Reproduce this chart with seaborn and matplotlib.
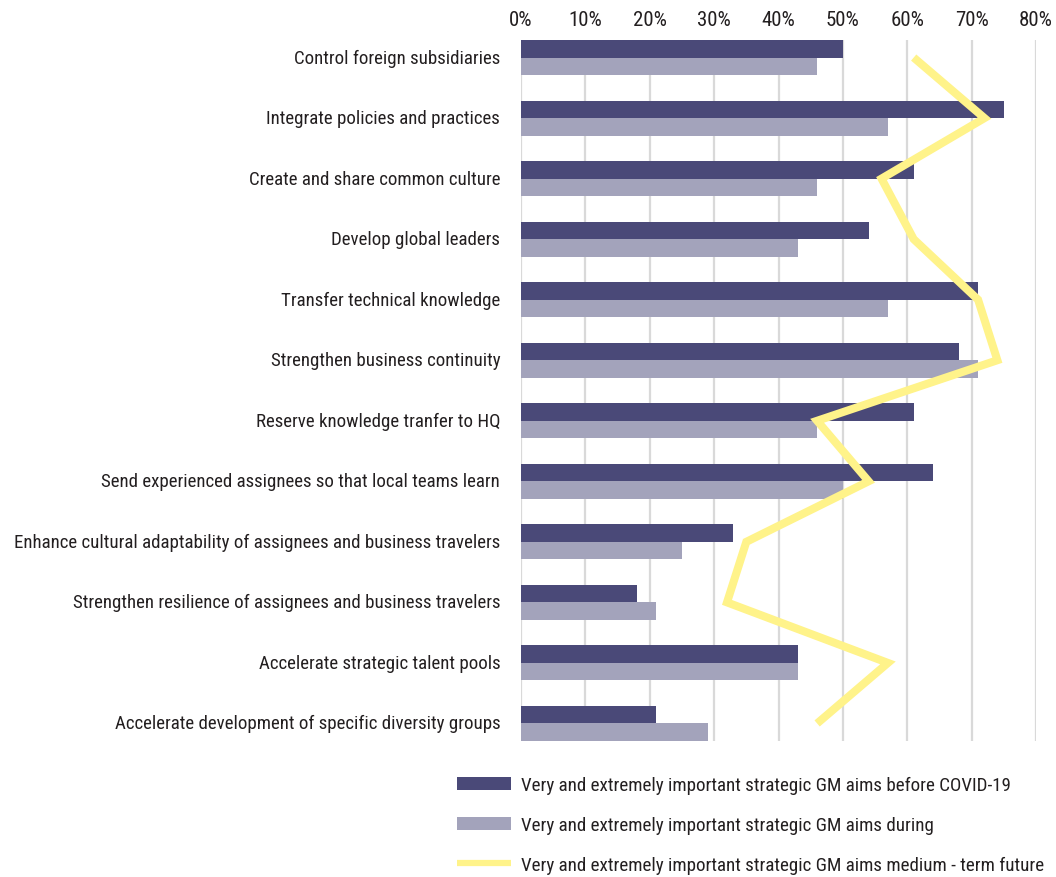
import matplotlib
matplotlib.use("Agg")
import matplotlib.pyplot as plt
from matplotlib import font_manager
from matplotlib import transforms
from matplotlib.patches import Patch
from matplotlib.lines import Line2D
import numpy as np
import pandas as pd
import seaborn as sns

# Strategic global mobility aims (share of respondents rating "very" or "extremely" important)
aims = [
    "Control foreign subsidiaries",
    "Integrate policies and practices",
    "Create and share common culture",
    "Develop global leaders",
    "Transfer technical knowledge",
    "Strengthen business continuity",
    "Reserve knowledge tranfer to HQ",
    "Send experienced assignees so that local teams learn",
    "Enhance cultural adaptability of assignees and business travelers",
    "Strengthen resilience of assignees and business travelers",
    "Accelerate strategic talent pools",
    "Accelerate development of specific diversity groups",
]
before_covid = [50, 75, 61, 54, 71, 68, 61, 64, 33, 18, 43, 21]
during_covid = [46, 57, 46, 43, 57, 71, 46, 50, 25, 21, 43, 29]
medium_term = [61, 72, 56, 61, 71, 74, 46, 54, 35, 32, 57, 46]

series_names = [
    "Very and extremely important strategic GM aims before COVID-19",
    "Very and extremely important strategic GM aims during",
    "Very and extremely important strategic GM aims medium - term future",
]
x_ticks = [0, 10, 20, 30, 40, 50, 60, 70, 80]
x_tick_labels = ["0%", "10%", "20%", "30%", "40%", "50%", "60%", "70%", "80%"]

DARK = "#4A4978"
LIGHT = "#A3A3BB"
YELLOW = "#FFF38A"
GRID = "#D9D9D9"
TEXT = "#231F20"

sns.set_style("white")
available = {f.name for f in font_manager.fontManager.ttflist}
family = next((f for f in ["Liberation Sans Narrow", "Roboto Condensed", "Liberation Sans"]
               if f in available), "DejaVu Sans")
plt.rcParams["font.family"] = [family, "DejaVu Sans"]

df = pd.DataFrame({
    "aim": aims * 2,
    "value": before_covid + during_covid,
    "period": [series_names[0]] * len(aims) + [series_names[1]] * len(aims),
})

fig = plt.figure(figsize=(10.56, 8.78), dpi=100)
ax = fig.add_axes([521 / 1056, 136 / 878, 515 / 1056, 701 / 878])

sns.barplot(data=df, y="aim", x="value", hue="period", orient="h",
            palette=[DARK, LIGHT], width=0.58, saturation=1, legend=False,
            edgecolor="none", ax=ax, zorder=2)

# medium-term future line runs through the category centres
ax.plot(medium_term, np.arange(len(aims)), color=YELLOW, lw=5.8,
        solid_joinstyle="miter", solid_capstyle="butt", zorder=4, clip_on=False)

ax.set_xlim(0, 80)
ax.set_ylim(len(aims) - 1 + 0.29, -0.29)
ax.set_xticks(x_ticks)
ax.set_xticklabels(x_tick_labels)
ax.xaxis.tick_top()
ax.grid(axis="x", color=GRID, lw=1.6, zorder=0)
ax.grid(axis="y", visible=False)
ax.set_axisbelow(True)
for s in ax.spines.values():
    s.set_visible(False)
ax.tick_params(axis="x", length=0, pad=8, labelsize=15, labelcolor=TEXT)
ax.tick_params(axis="y", length=0, pad=15, labelsize=13.6, labelcolor=TEXT)
nudge = transforms.ScaledTranslation(0, 2 / 100, fig.dpi_scale_trans)
for lbl in ax.get_yticklabels():
    lbl.set_transform(lbl.get_transform() + nudge)
ax.set_xlabel("")
ax.set_ylabel("")

handles = [
    Patch(facecolor=DARK, edgecolor="none"),
    Patch(facecolor=LIGHT, edgecolor="none"),
    Line2D([0], [0], color=YELLOW, lw=4.5, solid_capstyle="butt"),
]
fig.legend(handles, series_names, loc="upper left",
           bbox_to_anchor=(457 / 1056, 1 - 777 / 878), frameon=False,
           fontsize=13.7, labelcolor=TEXT, handlelength=2.85, handleheight=0.7,
           handletextpad=0.5, labelspacing=1.15, borderpad=0, borderaxespad=0)

fig.savefig("out.png", dpi=100, facecolor="white")
